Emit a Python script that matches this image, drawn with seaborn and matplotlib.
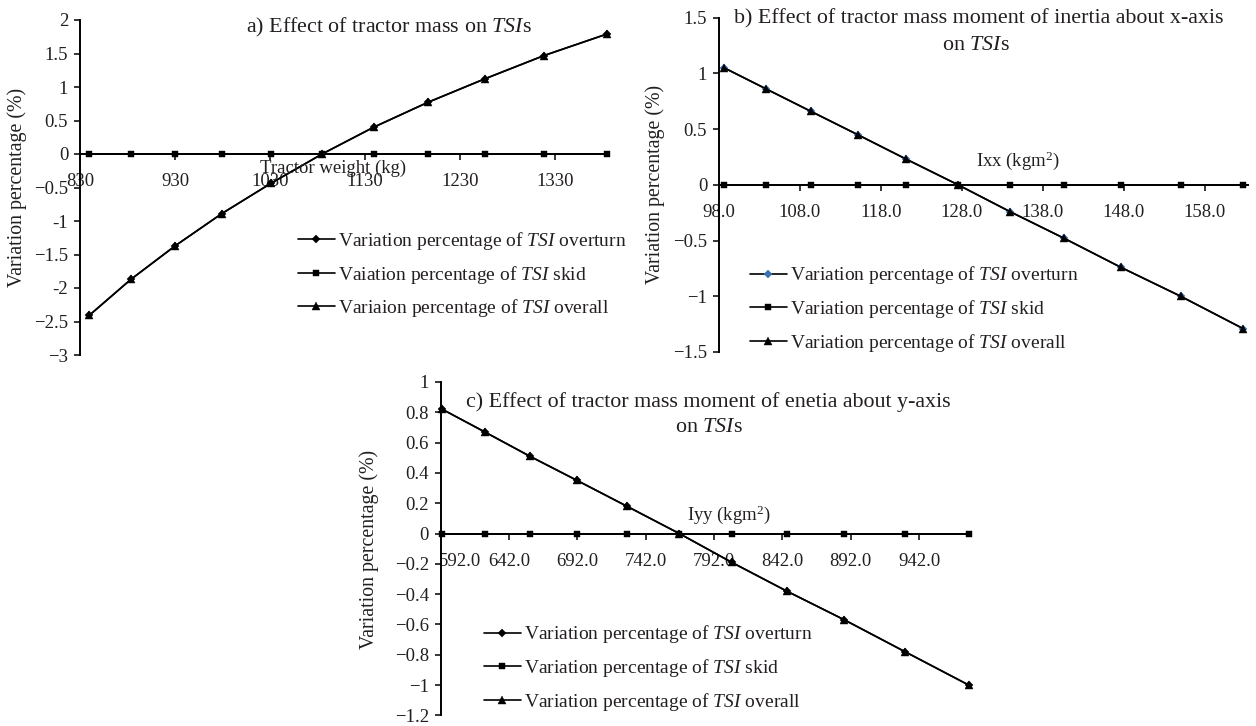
import matplotlib
matplotlib.use("Agg")
import matplotlib.pyplot as plt
import matplotlib.transforms as mtransforms
import seaborn as sns

# ---------------- data ----------------
# a) tractor mass
mass_kg = [839.6, 883.7, 930.3, 979.3, 1030.8, 1085.0, 1139.3, 1196.2, 1256.0, 1318.8, 1384.8]
mass_overturn = [-2.41, -1.87, -1.37, -0.89, -0.44, 0.0, 0.40, 0.77, 1.12, 1.47, 1.79]
mass_skid = [0, 0, 0, 0, 0, 0, 0, 0, 0, 0, 0]
mass_overall = [-2.41, -1.87, -1.37, -0.89, -0.44, 0.0, 0.40, 0.77, 1.12, 1.47, 1.79]

# b) Ixx
ixx = [98.6, 103.8, 109.3, 115.1, 121.1, 127.5, 133.9, 140.6, 147.6, 155.0, 162.7]
ixx_overturn = [1.05, 0.86, 0.66, 0.45, 0.23, 0.0, -0.24, -0.48, -0.74, -1.00, -1.29]
ixx_skid = [0, 0, 0, 0, 0, 0, 0, 0, 0, 0, 0]
ixx_overall = [1.05, 0.86, 0.66, 0.45, 0.23, 0.0, -0.24, -0.48, -0.74, -1.00, -1.29]

# c) Iyy
iyy = [593.1, 624.3, 657.2, 691.8, 728.2, 766.5, 804.8, 845.1, 887.3, 931.6, 978.2]
iyy_overturn = [0.82, 0.67, 0.51, 0.35, 0.18, 0.0, -0.19, -0.38, -0.57, -0.78, -1.00]
iyy_skid = [0, 0, 0, 0, 0, 0, 0, 0, 0, 0, 0]
iyy_overall = [0.82, 0.67, 0.51, 0.35, 0.18, 0.0, -0.19, -0.38, -0.57, -0.78, -1.00]

# tick labels
a_xticks = [830, 930, 1030, 1130, 1230, 1330]
a_xticklabels = ["830", "930", "1030", "1130", "1230", "1330"]
a_yticks = [2, 1.5, 1, 0.5, 0, -0.5, -1, -1.5, -2, -2.5, -3]
a_yticklabels = ["2", "1.5", "1", "0.5", "0", "\u22120.5", "-1", "\u22121.5", "-2", "\u22122.5", "\u22123"]

b_xticks = [98, 108, 118, 128, 138, 148, 158]
b_xticklabels = ["98.0", "108.0", "118.0", "128.0", "138.0", "148.0", "158.0"]
b_yticks = [1.5, 1, 0.5, 0, -0.5, -1, -1.5]
b_yticklabels = ["1.5", "1", "0.5", "0", "\u22120.5", "\u22121", "\u22121.5"]

c_xticks = [592, 642, 692, 742, 792, 842, 892, 942]
c_xticklabels = ["592.0", "642.0", "692.0", "742.0", "792.0", "842.0", "892.0", "942.0"]
c_yticks = [1, 0.8, 0.6, 0.4, 0.2, 0, -0.2, -0.4, -0.6, -0.8, -1, -1.2]
c_yticklabels = ["1", "0.8", "0.6", "0.4", "0.2", "0", "\u22120.2", "\u22120.4", "\u22120.6",
                 "\u22120.8", "\u22121", "\u22121.2"]

leg_a = ["Variation percentage of $\\mathit{TSI}$ overturn",
         "Vaiation percentage of $\\mathit{TSI}$ skid",
         "Variaion percentage of $\\mathit{TSI}$ overall"]
leg_b = ["Variation percentage of $\\mathit{TSI}$ overturn",
         "Variation percentage of $\\mathit{TSI}$ skid",
         "Variation percentage of $\\mathit{TSI}$ overall"]
leg_c = ["Variation percentage of $\\mathit{TSI}$ overturn",
         "Variation percentage of $\\mathit{TSI}$ skid",
         "Variation percentage of $\\mathit{TSI}$ overall"]

# ---------------- style ----------------
sns.set_style("ticks")
plt.rcParams["font.family"] = ["Liberation Serif", "DejaVu Serif"]
plt.rcParams["mathtext.fontset"] = "custom"
plt.rcParams["mathtext.rm"] = "Liberation Serif"
plt.rcParams["mathtext.it"] = "Liberation Serif:italic"
plt.rcParams["mathtext.bf"] = "Liberation Serif:bold"
plt.rcParams["axes.unicode_minus"] = True

TXT = "#231f20"
W, H = 1256, 726
fig = plt.figure(figsize=(W / 100, H / 100), dpi=100)


def add_ax(left, top, right, bottom):
    return fig.add_axes([left / W, 1 - bottom / H, (right - left) / W, (bottom - top) / H])


def fx(x):
    return x / W


def fy(y):
    return 1 - y / H


def draw_panel(ax, x, over, skid, overall, labels, over_color, xlim, ylim,
               xticks, xtl, yticks, ytl, leg_xy):
    sns.lineplot(x=x, y=over, ax=ax, color="black", linewidth=1.2, marker="D",
                 markersize=4, markerfacecolor=over_color, markeredgecolor=over_color,
                 markeredgewidth=0.3, sort=False, label=labels[0], clip_on=False, zorder=3)
    sns.lineplot(x=x, y=skid, ax=ax, color="black", linewidth=1.2, marker="s",
                 markersize=5, markeredgecolor="black", markeredgewidth=0.3,
                 sort=False, label=labels[1], clip_on=False, zorder=4)
    sns.lineplot(x=x, y=overall, ax=ax, color="black", linewidth=1.2, marker="^",
                 markersize=5.8, markeredgecolor="black", markeredgewidth=0.3,
                 sort=False, label=labels[2], clip_on=False, zorder=5)
    ax.set_xlim(*xlim)
    ax.set_ylim(*ylim)
    ax.set_xticks(xticks, xtl)
    ax.set_yticks(yticks, ytl)
    ax.set_xlabel("")
    ax.set_ylabel("")
    ax.spines[["top", "right"]].set_visible(False)
    ax.spines["bottom"].set_position(("data", 0))
    for s in ("left", "bottom"):
        ax.spines[s].set_linewidth(1.4)
        ax.spines[s].set_color("black")
    ax.tick_params(axis="both", direction="out", length=4, width=1.1,
                   labelsize=13.5, labelcolor=TXT, color="black")
    ax.tick_params(axis="x", pad=10)
    ax.tick_params(axis="y", pad=4.5)
    ax.patch.set_alpha(0)
    h, l = ax.get_legend_handles_labels()
    ax.legend(h, l, loc="center left", bbox_to_anchor=(fx(leg_xy[0]), fy(leg_xy[1])),
              bbox_transform=fig.transFigure, frameon=False, fontsize=14,
              handlelength=1.9, handletextpad=0.15, labelspacing=0.6,
              borderpad=0, borderaxespad=0, numpoints=1, labelcolor=TXT)


# panel a
ax_a = add_ax(80, 20, 608.9, 355)
draw_panel(ax_a, mass_kg, mass_overturn, mass_skid, mass_overall, leg_a, "black",
           (830, 1387), (-3, 2), a_xticks, a_xticklabels, a_yticks, a_yticklabels,
           (298, 274.5))
# panel b
ax_b = add_ax(719, 17.5, 1247.9, 352)
draw_panel(ax_b, ixx, ixx_overturn, ixx_skid, ixx_overall, leg_b, "#3b6fb6",
           (98, 163.3), (-1.5, 1.5), b_xticks, b_xticklabels, b_yticks, b_yticklabels,
           (750, 309))
# panel c
ax_c = add_ax(440.7, 382, 970.4, 715.3)
draw_panel(ax_c, iyy, iyy_overturn, iyy_skid, iyy_overall, leg_c, "black",
           (592, 979.5), (-1.2, 1.0), c_xticks, c_xticklabels, c_yticks, c_yticklabels,
           (484, 668))

# first x label of panel c sits to the right of the y axis, as in the reference
first_lbl = ax_c.get_xticklabels()[0]
first_lbl.set_horizontalalignment("left")
first_lbl.set_transform(first_lbl.get_transform() +
                        mtransforms.ScaledTranslation(-2 / 100, 0, fig.dpi_scale_trans))

# titles
TS = 15.8
fig.text(fx(389), fy(27), "a) Effect of tractor mass on $\\mathit{TSI}$s", ha="center",
         va="center", fontsize=TS, color=TXT)
fig.text(fx(979), fy(19), "b) Effect of tractor mass moment of inertia about x-axis",
         ha="center", va="center", fontsize=TS, color=TXT)
fig.text(fx(976), fy(45), "on $\\mathit{TSI}$s", ha="center", va="center", fontsize=TS, color=TXT)
fig.text(fx(708), fy(402), "c) Effect of tractor mass moment of enetia about y-axis",
         ha="center", va="center", fontsize=TS, color=TXT)
fig.text(fx(709), fy(428), "on $\\mathit{TSI}$s", ha="center", va="center", fontsize=TS, color=TXT)

# axis labels
fig.text(fx(333), fy(168), "Tractor weight (kg)", ha="center", va="center", fontsize=13.5, color=TXT)
fig.text(fx(1018), fy(161), "Ixx (kgm$^2$)", ha="center", va="center", fontsize=13.5, color=TXT)
fig.text(fx(729), fy(515), "Iyy (kgm$^2$)", ha="center", va="center", fontsize=13.5, color=TXT)
for (xx, yy) in [(17, 187), (655, 184), (369, 549)]:
    fig.text(fx(xx), fy(yy), "Variation percentage (%)", ha="center", va="center",
             rotation=90, fontsize=14.3, color=TXT)

fig.savefig("out.png", dpi=100, facecolor="white")
